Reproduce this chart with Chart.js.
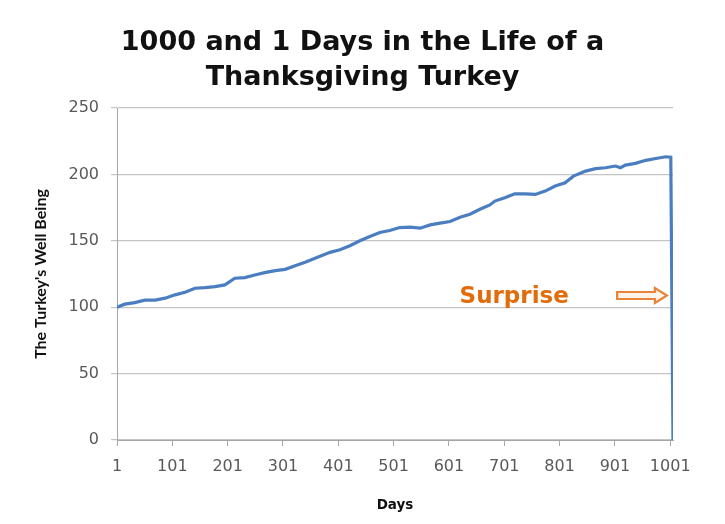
<!DOCTYPE html>
<html lang="en">
<head>
    <title>1000 and 1 Days in the Life of a Thanksgiving Turkey</title>
    <meta charset="utf-8">
    <script src="https://cdn.jsdelivr.net/npm/chart.js@4.4.0/dist/chart.umd.min.js"></script>
    <style>
        html, body { margin: 0; padding: 0; background: #fff; }
        #wrap { width: 725px; height: 524px; }
    </style>
</head>
<body>
<div id="wrap"><canvas id="turkey-chart" width="725" height="524"></canvas></div>

<script>
// values
var days = [1, 15, 33, 51, 70, 88, 106, 124, 142, 160,
    178, 196, 214, 232, 250, 268, 287, 305, 323, 341,
    368, 386, 404, 422, 440, 458, 476, 494, 512, 531,
    549, 567, 585, 603, 621, 639, 657, 675, 684, 702,
    720, 739, 757, 775, 793, 811, 826, 848, 866, 884,
    902, 911, 920, 938, 957, 975, 993, 1002, 1006];
var wellBeing = [100, 102.3, 103.5, 105.3, 105.3, 106.8, 109.3, 111.3, 114.3, 114.8,
    115.5, 116.8, 121.8, 122.3, 124.3, 126, 127.5, 128.5, 131.3, 133.8,
    138.3, 141.3, 143.3, 146.3, 150, 153.3, 156.3, 157.8, 160, 160.3,
    159.5, 162, 163.3, 164.5, 167.8, 170, 173.8, 177, 179.9, 182.4,
    185.4, 185.4, 184.9, 187.4, 191.2, 193.7, 198.7, 202.5, 204.3, 205,
    206.3, 205, 207, 208.3, 210.6, 212, 213.3, 213, 0];
var xTickLabels = [1, 101, 201, 301, 401, 501, 601, 701, 801, 901, 1001];
var yTickLabels = [0, 50, 100, 150, 200, 250];

var points = days.map(function (d, i) { return { x: d, y: wellBeing[i] }; });

// "Surprise" label and the hollow arrow pointing at the drop
var surprisePlugin = {
  id: 'surprise',
  afterDatasetsDraw: function (chart) {
    var ctx = chart.ctx;
    var xs = chart.scales.x, ys = chart.scales.y;
    ctx.save();
    ctx.fillStyle = '#E36C0A';
    ctx.font = 'bold 23px "DejaVu Sans"';
    ctx.textAlign = 'center';
    ctx.textBaseline = 'alphabetic';
    ctx.fillText('Surprise', xs.getPixelForValue(719), ys.getPixelForValue(103.2));

    var x0 = xs.getPixelForValue(905), x1 = xs.getPixelForValue(995);
    var yc = ys.getPixelForValue(108.8);
    var hx = x1 - 12;
    ctx.beginPath();
    ctx.moveTo(x0, yc - 3.5);
    ctx.lineTo(hx, yc - 3.5);
    ctx.lineTo(hx, yc - 7.5);
    ctx.lineTo(x1, yc);
    ctx.lineTo(hx, yc + 7.5);
    ctx.lineTo(hx, yc + 3.5);
    ctx.lineTo(x0, yc + 3.5);
    ctx.closePath();
    ctx.fillStyle = '#fdf3ea';
    ctx.fill();
    ctx.strokeStyle = '#E8833A';
    ctx.lineWidth = 2.2;
    ctx.stroke();
    ctx.restore();
  }
};

new Chart(document.getElementById('turkey-chart'), {
  type: 'line',
  data: {
    datasets: [{
      label: "The Turkey's Well Being",
      data: points,
      borderColor: '#4A7EC0',
      borderWidth: 3.2,
      pointRadius: 0,
      tension: 0,
      fill: false
    }]
  },
  options: {
    responsive: false,
    animation: false,
    layout: { padding: 0 },
    plugins: {
      legend: { display: false },
      tooltip: { enabled: false },
      title: {
        display: true,
        text: ['1000 and 1 Days in the Life of a', 'Thanksgiving Turkey'],
        color: '#111',
        font: { family: '"DejaVu Sans"', size: 27, weight: 'bold', lineHeight: 1.315 },
        padding: { top: 25, bottom: 12 }
      }
    },
    scales: {
      x: {
        type: 'linear',
        min: 1,
        max: 1006,
        afterBuildTicks: function (scale) {
          scale.ticks = xTickLabels.map(function (v) { return { value: v }; });
        },
        afterFit: function (scale) { scale.height = 84; },
        ticks: {
          color: '#595959',
          font: { family: '"DejaVu Sans"', size: 16 },
          padding: 11,
          maxRotation: 0,
          autoSkip: false,
          callback: function (v) { return String(v); }
        },
        grid: { drawOnChartArea: false, drawTicks: true, tickLength: 6, color: '#a6a6a6' },
        border: { color: '#a6a6a6', width: 1 },
        title: {
          display: true,
          text: 'Days',
          color: '#111',
          font: { family: '"DejaVu Sans"', size: 13.5, weight: 'bold' },
          padding: { bottom: 10 }
        }
      },
      y: {
        min: 0,
        max: 250,
        afterBuildTicks: function (scale) {
          scale.ticks = yTickLabels.map(function (v) { return { value: v }; });
        },
        afterFit: function (scale) { scale.width = 117; },
        ticks: {
          color: '#595959',
          font: { family: '"DejaVu Sans"', size: 16 },
          padding: 12
        },
        grid: { color: '#c4c4c4', lineWidth: 1.2, tickLength: 6 },
        border: { color: '#a6a6a6', width: 1 },
        title: {
          display: true,
          text: "The Turkey's Well Being",
          color: '#111',
          font: { family: 'Lato', size: 16, weight: 'bold' },
          padding: { top: 31 }
        }
      },
      // empty right-hand axis, only reserves the white margin right of the plot
      yRight: {
        position: 'right',
        min: 0,
        max: 250,
        afterFit: function (scale) { scale.width = 52; },
        ticks: { display: false },
        grid: { display: false },
        border: { display: false }
      }
    }
  },
  plugins: [surprisePlugin]
});
</script>
</body>
</html>
